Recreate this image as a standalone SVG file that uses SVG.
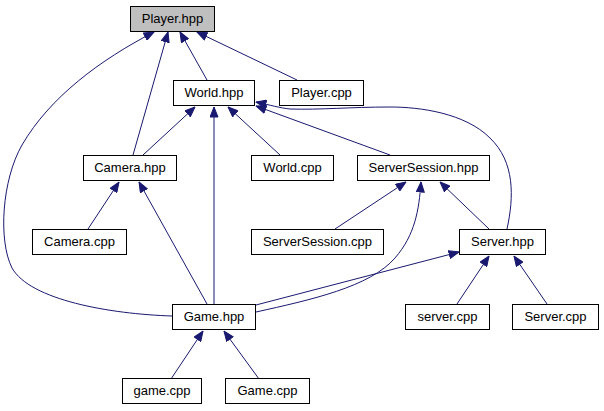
<svg xmlns="http://www.w3.org/2000/svg" width="604" height="411" viewBox="0 0 604 411">
<style>
.n rect{fill:#fff;stroke:#000;stroke-width:1}
#player_hpp rect{fill:#bfbfbf}
.n text{font-family:"Liberation Sans",Arial,sans-serif;font-size:13px;fill:#000;text-anchor:middle}
.e path{fill:none;stroke:#191970;stroke-width:1;marker-end:url(#ah)}
</style>
<defs>
<marker id="ah" markerUnits="userSpaceOnUse" viewBox="0 0 11 9" refX="10.5" refY="4.5" markerWidth="11" markerHeight="9" orient="auto">
<path d="M0.5,0.5 L10.5,4.5 L0.5,8.5 z" fill="#191970" stroke="#191970" stroke-width="1"/>
</marker>
</defs>
<g id="edges" class="e">
<path d="M207,80 L180,32"/>
<path d="M297,80 L197,32"/>
<path d="M133,155 L168,32"/>
<path d="M172,316 C110,314 30,300 12,268 C-2,240 2,180 22,145 C50,97 100,60 154,32"/>
<path d="M143,155 L195,107"/>
<path d="M214,304 L214,107"/>
<path d="M280,155 L228,107"/>
<path d="M390,155 L256,106"/>
<path d="M507,229 C514,197 515,162 490,138 C465,113 420,107 390,107 C350,107 320,110 290,109 C280,108 270,105 256,102"/>
<path d="M88,229 L119,182"/>
<path d="M207,304 L139,182"/>
<path d="M335,229 L406,182"/>
<path d="M256,312 C310,300 370,287 395,258 C415,235 419,210 421,182"/>
<path d="M489,229 L440,182"/>
<path d="M256,305 L459,252"/>
<path d="M457,304 L489,256"/>
<path d="M547,304 L514,256"/>
<path d="M171,379 L203,331"/>
<path d="M259,379 L224,331"/>
</g>
<g id="player_hpp" class="n"><rect x="130.5" y="6.5" width="84" height="25"/><text x="172.5" y="23">Player.hpp</text></g>
<g id="world_hpp" class="n"><rect x="173.5" y="80.5" width="81" height="25"/><text x="214" y="97">World.hpp</text></g>
<g id="player_cpp" class="n"><rect x="279.5" y="80.5" width="84" height="25"/><text x="321.5" y="97">Player.cpp</text></g>
<g id="camera_hpp" class="n"><rect x="83.5" y="155.5" width="93" height="25"/><text x="130" y="172">Camera.hpp</text></g>
<g id="world_cpp" class="n"><rect x="251.5" y="155.5" width="82" height="25"/><text x="292.5" y="172">World.cpp</text></g>
<g id="serversession_hpp" class="n"><rect x="357.5" y="155.5" width="132" height="25"/><text x="423.5" y="172">ServerSession.hpp</text></g>
<g id="camera_cpp" class="n"><rect x="32.5" y="229.5" width="94" height="25"/><text x="79.5" y="246">Camera.cpp</text></g>
<g id="serversession_cpp" class="n"><rect x="251.5" y="229.5" width="132" height="25"/><text x="317.5" y="246">ServerSession.cpp</text></g>
<g id="server_hpp" class="n"><rect x="459.5" y="229.5" width="86" height="25"/><text x="502.5" y="246">Server.hpp</text></g>
<g id="game_hpp" class="n"><rect x="172.5" y="304.5" width="83" height="25"/><text x="214" y="321">Game.hpp</text></g>
<g id="server_cpp_l" class="n"><rect x="405.5" y="304.5" width="84" height="25"/><text x="447.5" y="321">server.cpp</text></g>
<g id="server_cpp_u" class="n"><rect x="512.5" y="304.5" width="86" height="25"/><text x="555.5" y="321">Server.cpp</text></g>
<g id="game_cpp_l" class="n"><rect x="122.5" y="378.5" width="79" height="25"/><text x="162" y="395">game.cpp</text></g>
<g id="game_cpp_u" class="n"><rect x="225.5" y="378.5" width="84" height="25"/><text x="267.5" y="395">Game.cpp</text></g>
</svg>
